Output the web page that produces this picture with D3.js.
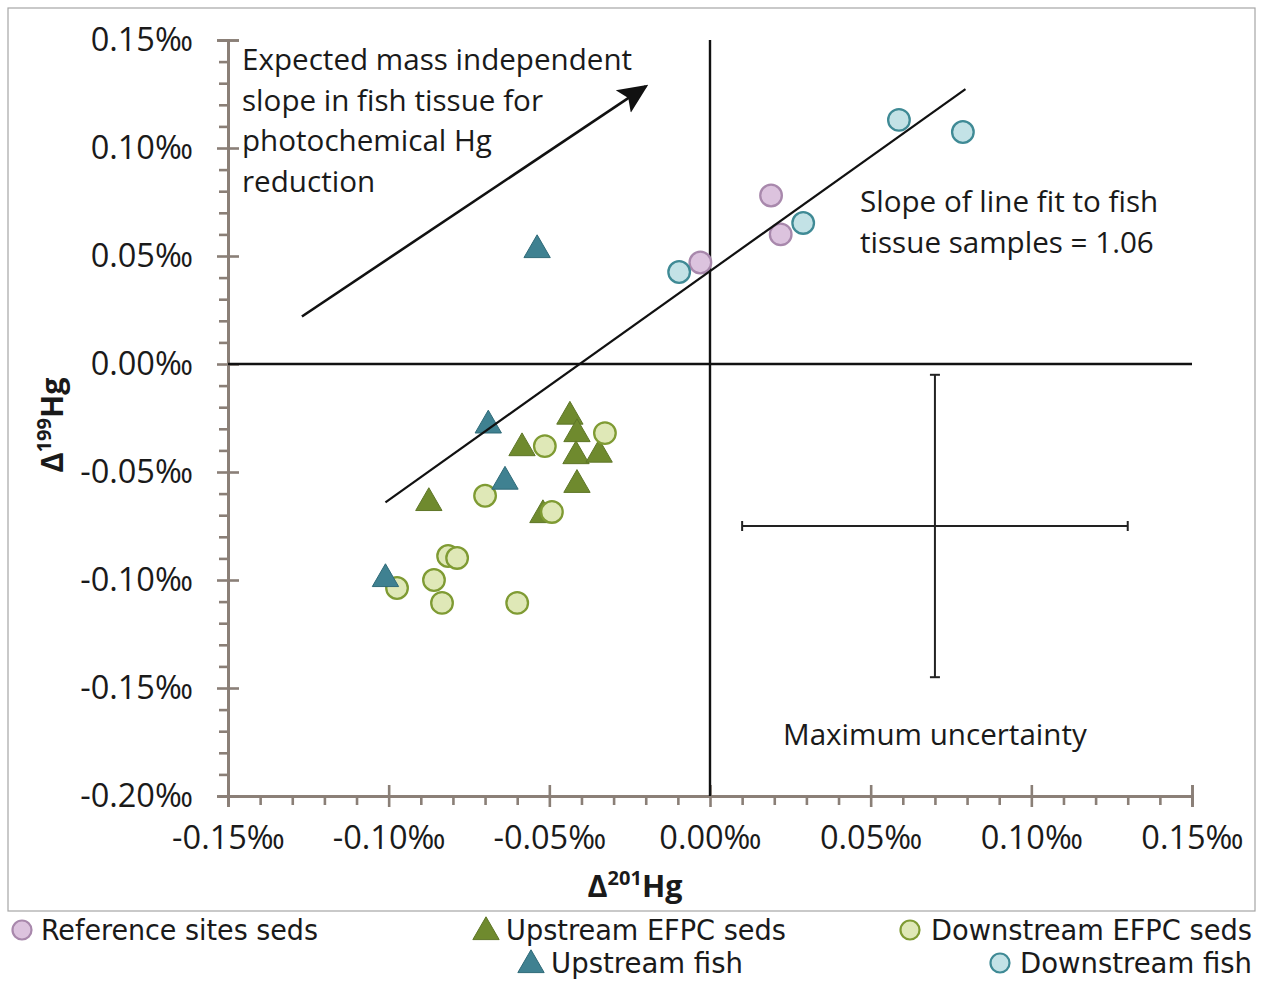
<!DOCTYPE html>
<html>
<head>
<meta charset="utf-8">
<script src="https://cdn.jsdelivr.net/npm/d3@7"></script>
<style>
  body { margin: 0; background: #fff; }
  svg text { font-family: "Open Sans", sans-serif; fill: #1a1a1a; }
</style>
</head>
<body>
<svg id="chart" width="1266" height="981"></svg>
<script>
// values (per mil)
const refSedsX = [-0.003, 0.019, 0.022]
const refSedsY = [0.047, 0.078, 0.060]

const upSedsX = [-0.0875, -0.0585, -0.0436, -0.0414, -0.0417, -0.0345, -0.0414, -0.052]
const upSedsY = [-0.0634, -0.038, -0.0234, -0.0315, -0.0417, -0.041, -0.055, -0.069]

const downSedsX = [-0.0514, -0.0327, -0.070, -0.0492, -0.0815, -0.0787, -0.0859, -0.0974, -0.0834, -0.060]
const downSedsY = [-0.038, -0.032, -0.061, -0.0685, -0.0889, -0.0898, -0.100, -0.1037, -0.1106, -0.1106]

const upFishX = [-0.0538, -0.069, -0.0638, -0.101]
const upFishY = [0.0537, -0.0275, -0.0535, -0.0986]

const downFishX = [-0.0096, 0.029, 0.0588, 0.0787]
const downFishY = [0.0426, 0.0653, 0.113, 0.1074]

// fitted line through fish tissue samples
const fitX = [-0.101, 0.0795]
const fitSlope = 1.06
const fitIntercept = 0.043

// expected mass independent slope arrow
const arrowX = [-0.127, -0.020]
const arrowY = [0.022, 0.1285]

// maximum uncertainty cross
const uncCenter = [0.07, -0.075]
const uncErrX = 0.06
const uncErrY = 0.07

const xMajor = [-0.15, -0.10, -0.05, 0, 0.05, 0.10, 0.15]
const yMajor = [0.15, 0.10, 0.05, 0, -0.05, -0.10, -0.15, -0.20]

const svg = d3.select('#chart')
const marginLeft = 228, marginRight = 74, marginTop = 40, marginBottom = 185
const width = 1266, height = 981

const x = d3.scaleLinear().domain([-0.15, 0.15]).range([marginLeft, width - marginRight])
const y = d3.scaleLinear().domain([-0.20, 0.15]).range([height - marginBottom, marginTop])

const fmt = v => (v < -1e-9 ? '-' : '') + Math.abs(v).toFixed(2) + '‰'
const axisColor = '#8a7f77'

// outer frame
svg.append('rect')
  .attr('x', 8).attr('y', 8)
  .attr('width', 1247).attr('height', 903)
  .attr('fill', 'none').attr('stroke', '#a6a6a6').attr('stroke-width', 1.2)

const minorX = d3.range(-0.15, 0.1501, 0.01).filter(v => Math.abs(Math.round(v * 100) % 5) !== 0)
const minorY = d3.range(-0.20, 0.1501, 0.01).filter(v => Math.abs(Math.round(v * 100) % 5) !== 0)

// y axis
const gy = svg.append('g').attr('transform', `translate(${marginLeft},0)`)
gy.append('g').call(d3.axisLeft(y).tickValues(minorY).tickSize(9).tickFormat(''))
gy.append('g').call(d3.axisRight(y).tickValues(yMajor).tickSize(11).tickFormat(''))
gy.append('g').call(d3.axisLeft(y).tickValues(yMajor).tickSize(11).tickPadding(24).tickFormat(fmt))

// x axis
const gx = svg.append('g').attr('transform', `translate(0,${height - marginBottom})`)
gx.append('g').call(d3.axisBottom(x).tickValues(minorX).tickSize(9).tickFormat(''))
gx.append('g').call(d3.axisTop(x).tickValues(xMajor).tickSize(11).tickFormat(''))
gx.append('g').call(d3.axisBottom(x).tickValues(xMajor).tickSize(11).tickPadding(19).tickFormat(fmt))

svg.selectAll('.domain').attr('stroke', axisColor).attr('stroke-width', 2.6)
svg.selectAll('.tick line').attr('stroke', axisColor).attr('stroke-width', 2.6)
svg.selectAll('.tick text').attr('font-size', 32.5).attr('font-family', '"Open Sans", sans-serif').attr('fill', '#1a1a1a')

// zero lines
svg.append('line')
  .attr('x1', x(-0.15)).attr('x2', x(0.15)).attr('y1', y(0)).attr('y2', y(0))
  .attr('stroke', '#111').attr('stroke-width', 2.4)
svg.append('line')
  .attr('x1', x(0)).attr('x2', x(0)).attr('y1', y(0.15)).attr('y2', y(-0.20))
  .attr('stroke', '#111').attr('stroke-width', 2.4)

// markers
const tri = d3.symbol().type(d3.symbolTriangle).size(300)
const zip = (xs, ys) => xs.map((v, i) => [v, ys[i]])

function drawTriangles(xs, ys, fill, stroke) {
  svg.append('g').selectAll('path')
    .data(zip(xs, ys))
    .join('path')
      .attr('d', tri)
      .attr('transform', d => `translate(${x(d[0])},${y(d[1]) + 2})`)
      .attr('fill', fill).attr('stroke', stroke).attr('stroke-width', 1)
}
function drawCircles(xs, ys, fill, stroke) {
  svg.append('g').selectAll('circle')
    .data(zip(xs, ys))
    .join('circle')
      .attr('cx', d => x(d[0])).attr('cy', d => y(d[1]))
      .attr('r', 10.8)
      .attr('fill', fill).attr('stroke', stroke).attr('stroke-width', 2.3)
}

const colUpSeds = ['#6f8a2e', '#5e7627']
const colDownSeds = ['#dfe8b7', '#7f9b33']
const colUpFish = ['#3f8191', '#2f6a78']
const colRef = ['#dcc3de', '#a888ac']
const colDownFish = ['#c3e2e6', '#3f8a95']

drawTriangles(upSedsX, upSedsY, ...colUpSeds)
drawCircles(downSedsX, downSedsY, ...colDownSeds)
drawTriangles(upFishX, upFishY, ...colUpFish)
drawCircles(refSedsX, refSedsY, ...colRef)
drawCircles(downFishX, downFishY, ...colDownFish)

// fit line
svg.append('line')
  .attr('x1', x(fitX[0])).attr('y1', y(fitIntercept + fitSlope * fitX[0]))
  .attr('x2', x(fitX[1])).attr('y2', y(fitIntercept + fitSlope * fitX[1]))
  .attr('stroke', '#111').attr('stroke-width', 2.2)

// arrow
svg.append('defs').append('marker')
  .attr('id', 'head')
  .attr('viewBox', '0 0 10 10')
  .attr('refX', 9).attr('refY', 5)
  .attr('markerWidth', 30).attr('markerHeight', 30)
  .attr('markerUnits', 'userSpaceOnUse')
  .attr('orient', 'auto')
  .append('path').attr('d', 'M0,0.5 L10,5 L0,9.5 L2,5 Z').attr('fill', '#111')

svg.append('line')
  .attr('x1', x(arrowX[0])).attr('y1', y(arrowY[0]))
  .attr('x2', x(arrowX[1])).attr('y2', y(arrowY[1]))
  .attr('stroke', '#111').attr('stroke-width', 2.6)
  .attr('marker-end', 'url(#head)')

// uncertainty cross
const unc = svg.append('g').attr('stroke', '#222').attr('stroke-width', 2)
const cx = uncCenter[0], cy = uncCenter[1]
unc.append('line').attr('x1', x(cx - uncErrX)).attr('x2', x(cx + uncErrX)).attr('y1', y(cy)).attr('y2', y(cy))
unc.append('line').attr('x1', x(cx)).attr('x2', x(cx)).attr('y1', y(cy + uncErrY)).attr('y2', y(cy - uncErrY))
;[cx - uncErrX, cx + uncErrX].forEach(v => unc.append('line')
  .attr('x1', x(v)).attr('x2', x(v)).attr('y1', y(cy) - 5).attr('y2', y(cy) + 5))
;[cy - uncErrY, cy + uncErrY].forEach(v => unc.append('line')
  .attr('x1', x(cx) - 5).attr('x2', x(cx) + 5).attr('y1', y(v)).attr('y2', y(v)))

// annotations
function multiline(lines, xpos, y0, lh, anchor) {
  const t = svg.append('text').attr('font-size', 29.6).attr('text-anchor', anchor || 'start')
  lines.forEach((s, i) => t.append('tspan').attr('x', xpos).attr('y', y0 + i * lh).text(s))
}
multiline(['Expected mass independent', 'slope in fish tissue for', 'photochemical Hg', 'reduction'], 242, 70, 40.5)
multiline(['Slope of line fit to fish', 'tissue samples = 1.06'], 860, 212, 41)
multiline(['Maximum uncertainty'], x(cx), 745, 40, 'middle')

// axis titles
const xt = svg.append('text').attr('x', 635).attr('y', 897)
  .attr('text-anchor', 'middle').attr('font-size', 30.5).attr('font-weight', 'bold')
xt.append('tspan').text('Δ')
xt.append('tspan').attr('font-size', 20).attr('dy', -12).text('201')
xt.append('tspan').attr('dy', 12).text('Hg')

const yt = svg.append('text').attr('transform', 'translate(63,425) rotate(-90)')
  .attr('text-anchor', 'middle').attr('font-size', 30.5).attr('font-weight', 'bold')
yt.append('tspan').text('Δ')
yt.append('tspan').attr('font-size', 20).attr('dy', -12).text('199')
yt.append('tspan').attr('dy', 12).text('Hg')

// legend
const legend = [
  { label: 'Reference sites seds', kind: 'circle', col: colRef, mx: 22, tx: 41, ty: 930, w: 277 },
  { label: 'Upstream EFPC seds', kind: 'tri', col: colUpSeds, mx: 486, tx: 506, ty: 930, w: 280 },
  { label: 'Downstream EFPC seds', kind: 'circle', col: colDownSeds, mx: 910, tx: 931, ty: 930, w: 321 },
  { label: 'Upstream fish', kind: 'tri', col: colUpFish, mx: 531, tx: 551, ty: 963, w: 192 },
  { label: 'Downstream fish', kind: 'circle', col: colDownFish, mx: 1000, tx: 1020, ty: 963, w: 232 }
]
const lg = svg.append('g')
legend.forEach(d => {
  if (d.kind === 'circle') {
    lg.append('circle').attr('cx', d.mx).attr('cy', d.ty).attr('r', 9.5)
      .attr('fill', d.col[0]).attr('stroke', d.col[1]).attr('stroke-width', 2.2)
  } else {
    lg.append('path').attr('d', tri).attr('transform', `translate(${d.mx},${d.ty + 2})`)
      .attr('fill', d.col[0]).attr('stroke', d.col[1])
  }
  lg.append('text').attr('x', d.tx).attr('y', d.ty + 10)
    .style('font-family', '"Liberation Sans Narrow", "DejaVu Sans Condensed", "Liberation Sans", sans-serif')
    .attr('font-size', 28).attr('textLength', d.w).attr('lengthAdjust', 'spacingAndGlyphs')
    .text(d.label)
})
</script>
</body>
</html>
